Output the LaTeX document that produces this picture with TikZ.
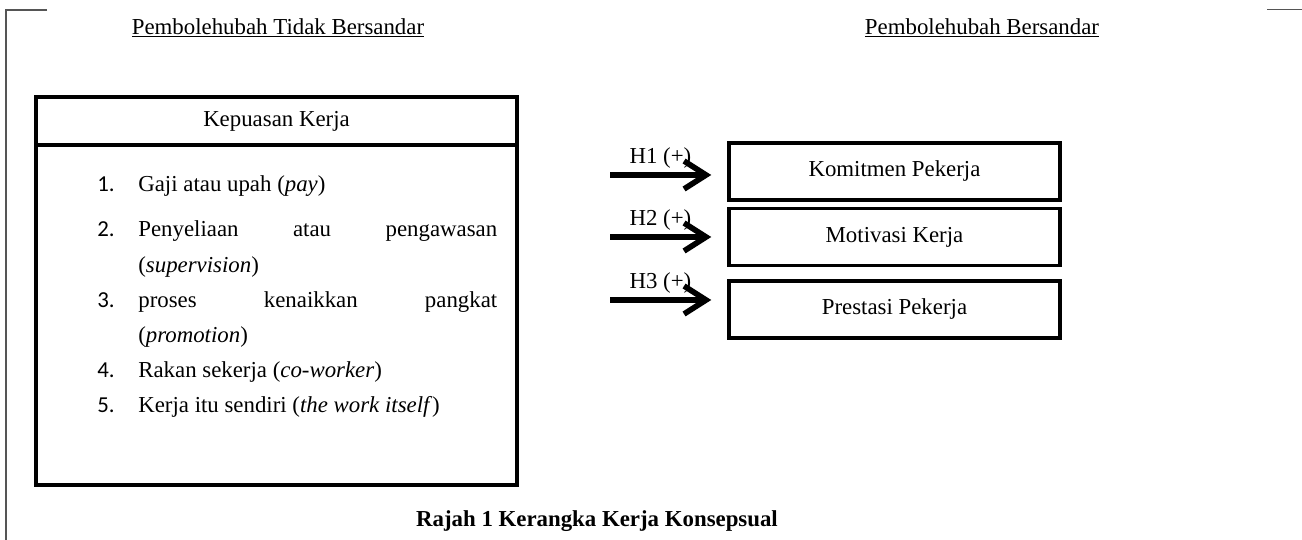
\documentclass[tikz,border=0pt]{standalone}
\usepackage{fontspec}
\setmainfont{Liberation Serif}
\newfontfamily\numfont{Carlito}
\usepackage{tikz}
\usetikzlibrary{positioning,arrows.meta}
\definecolor{FrameGray}{HTML}{555555}
\newlength\itemw
\setlength\itemw{7.18cm}
\newcommand{\itemno}[1]{\makebox[0.82cm][l]{\numfont #1}}

\begin{document}
\begin{tikzpicture}[
      x=0.02cm, y=-0.02cm,
      every node/.style={font=\fontsize{13}{20}\selectfont},
      bigbox/.style={draw, line width=2pt, minimum width=9.62cm, minimum height=7.76cm},
      headbox/.style={draw, line width=2pt, minimum width=9.62cm, minimum height=0.96cm},
      outcome/.style={draw, line width=2pt, minimum width=6.62cm, minimum height=1.14cm},
      listtext/.style={align=left, inner sep=0pt},
      arrow/.style={line width=3.2pt, -{Straight Barb[length=0.44cm, width=0.56cm]}},
      frame/.style={FrameGray, line width=0.9pt}
    ]
      \useasboundingbox (0,0) rectangle (1302,540);

      % Frame
      \draw[frame] (47,10) -- (6,10) -- (6,540);
      \draw[frame] (1267,9.5) -- (1302,9.5);

      % Headings
      \node (indep) at (278,28) {\underline{Pembolehubah Tidak Bersandar}};
      \node (dep) at (982,28) {\underline{Pembolehubah Bersandar}};

      % Independent variable
      \node[bigbox] (kepuasan) at (276.5,291) {};
      \node[headbox, anchor=north] (kepuasanhead) at (kepuasan.north) {Kepuasan Kerja};
      \node[listtext, anchor=north west] (items) at (97,175) {%
        \itemno{1.}Gaji atau upah (\textit{pay})\\[6pt]
        \itemno{2.}\makebox[\itemw][s]{Penyeliaan atau pengawasan}\\
        \itemno{}(\textit{supervision})\\
        \itemno{3.}\makebox[\itemw][s]{proses kenaikkan pangkat}\\
        \itemno{}(\textit{promotion})\\
        \itemno{4.}Rakan sekerja (\textit{co-worker})\\
        \itemno{5.}Kerja itu sendiri (\textit{the work itself})};

      % Dependent variables
      \node[outcome] (komitmen) at (894.5,171.5) {Komitmen Pekerja};
      \node[outcome, below=0.1cm of komitmen] (motivasi) {Motivasi Kerja};
      \node[outcome, below=0.24cm of motivasi] (prestasi) {Prestasi Pekerja};

      % Hypotheses
      \coordinate (h1) at (610,175);
      \coordinate (h2) at (610,237);
      \coordinate (h3) at (610,300);
      \draw[arrow, shorten >=0.32cm] (h1) -- (h1 -| komitmen.west) node[pos=0.43, above=-1pt] {H1 (+)};
      \draw[arrow, shorten >=0.32cm] (h2) -- (h2 -| motivasi.west) node[pos=0.43, above=-1pt] {H2 (+)};
      \draw[arrow, shorten >=0.32cm] (h3) -- (h3 -| prestasi.west) node[pos=0.43, above=-1pt] {H3 (+)};

      % Caption
      \node (caption) at (597,521) {\textbf{Rajah 1 Kerangka Kerja Konsepsual}};
    \end{tikzpicture}
\end{document}
